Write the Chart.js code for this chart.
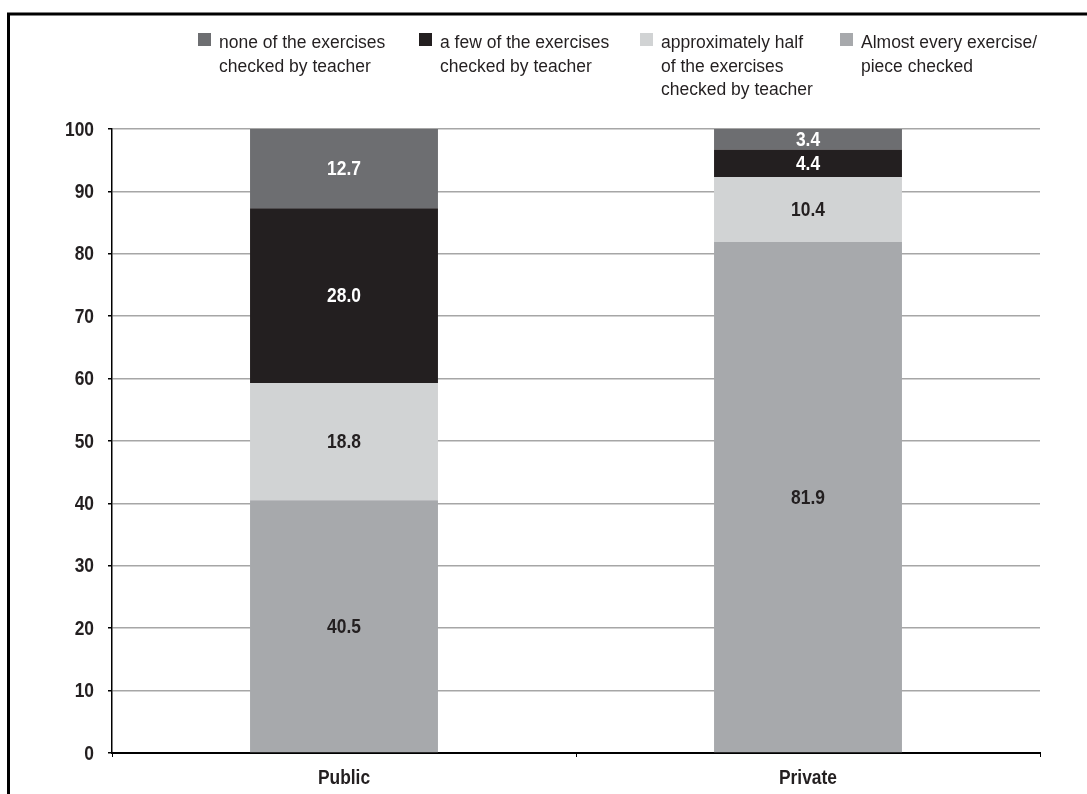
<!DOCTYPE html>
<html>
<head>
<meta charset="utf-8">
<script src="https://cdn.jsdelivr.net/npm/chart.js@4.4.1/dist/chart.umd.min.js"></script>
<style>
  html, body { margin: 0; padding: 0; background: #fff; overflow: hidden; }
  canvas { display: block; }
</style>
</head>
<body>
<canvas id="chart" width="1087" height="794"></canvas>
<script>
// School type categories
const categories = ['Public', 'Private'];

// Share of pupils (%) by how many exercises the teacher checks, stacked bottom to top
const almostEvery = [40.5, 81.9];
const approxHalf  = [18.8, 10.4];
const aFew        = [28.0, 4.4];
const noneChecked = [12.7, 3.4];

// Legend wording, one entry per line
const labelAlmostEvery = ['Almost every exercise/', 'piece checked'];
const labelApproxHalf  = ['approximately half', 'of the exercises', 'checked by teacher'];
const labelAFew        = ['a few of the exercises', 'checked by teacher'];
const labelNone        = ['none of the exercises', 'checked by teacher'];

const SANS = '"Liberation Sans", Arial, sans-serif';
const BOLD = 'bold 20px ' + SANS;
const INK = '#231f20';
const SQUEEZE = 0.87; // horizontal squeeze giving a narrow bold face

Chart.defaults.font.family = SANS;
Chart.defaults.color = INK;

// Draw a string horizontally condensed around (x, y)
function narrowText(ctx, text, x, y, align) {
  ctx.save();
  ctx.translate(x, y);
  ctx.scale(SQUEEZE, 1);
  ctx.textAlign = align;
  ctx.fillText(text, 0, 0);
  ctx.restore();
}

// Black frame along the top and left edges
const framePlugin = {
  id: 'frame',
  afterDraw(chart) {
    const ctx = chart.ctx;
    ctx.save();
    ctx.strokeStyle = '#000';
    ctx.lineWidth = 3;
    ctx.beginPath();
    ctx.moveTo(8.5, 794);
    ctx.lineTo(8.5, 14);
    ctx.lineTo(1087, 14);
    ctx.stroke();
    ctx.restore();
  }
};

// Multi-line legend across the top, listed from the top segment down
const legendPlugin = {
  id: 'multiLineLegend',
  afterDraw(chart) {
    const ctx = chart.ctx;
    const order = [3, 2, 1, 0];
    const xs = [198, 419, 640, 840];
    ctx.save();
    ctx.font = '17.5px ' + SANS;
    ctx.textBaseline = 'alphabetic';
    ctx.textAlign = 'left';
    order.forEach((dsIndex, k) => {
      const ds = chart.data.datasets[dsIndex];
      const x = xs[k];
      ctx.fillStyle = ds.backgroundColor;
      ctx.fillRect(x, 33, 13, 13);
      ctx.fillStyle = INK;
      ds.legendLines.forEach((line, li) => {
        ctx.fillText(line, x + 21, 48 + li * 23.5);
      });
    });
    ctx.restore();
  }
};

// Axis tick labels in a condensed bold face, placed by the chart's scales
const axisLabelPlugin = {
  id: 'narrowAxisLabels',
  afterDraw(chart) {
    const ctx = chart.ctx;
    const xs = chart.scales.x;
    const ys = chart.scales.y;
    ctx.save();
    ctx.font = BOLD;
    ctx.fillStyle = INK;
    ctx.textBaseline = 'middle';
    ys.ticks.forEach((t, i) => {
      narrowText(ctx, String(t.label), ys.right - 18, ys.getPixelForTick(i) + 1, 'right');
    });
    xs.ticks.forEach((t, i) => {
      narrowText(ctx, String(t.label), xs.getPixelForTick(i), xs.top + 25, 'center');
    });
    ctx.restore();
  }
};

// Value printed in the middle of each stacked segment
const valuePlugin = {
  id: 'segmentValues',
  afterDatasetsDraw(chart) {
    const ctx = chart.ctx;
    const area = chart.chartArea;
    ctx.save();
    ctx.font = BOLD;
    ctx.textBaseline = 'middle';
    chart.data.datasets.forEach((ds, i) => {
      const meta = chart.getDatasetMeta(i);
      meta.data.forEach((bar, j) => {
        const v = ds.data[j];
        const top = Math.max(bar.y, area.top);
        const y = (top + bar.base) / 2;
        ctx.fillStyle = ds.valueColor;
        narrowText(ctx, v.toFixed(1), bar.x, y + 1, 'center');
      });
    });
    ctx.restore();
  }
};

new Chart(document.getElementById('chart'), {
  type: 'bar',
  data: {
    labels: categories,
    datasets: [
      { label: labelAlmostEvery.join(' '), legendLines: labelAlmostEvery, data: almostEvery,
        backgroundColor: '#a7a9ac', valueColor: INK },
      { label: labelApproxHalf.join(' '), legendLines: labelApproxHalf, data: approxHalf,
        backgroundColor: '#d1d3d4', valueColor: INK },
      { label: labelAFew.join(' '), legendLines: labelAFew, data: aFew,
        backgroundColor: '#231f20', valueColor: '#ffffff' },
      { label: labelNone.join(' '), legendLines: labelNone, data: noneChecked,
        backgroundColor: '#6d6e71', valueColor: '#ffffff' }
    ]
  },
  options: {
    responsive: false,
    animation: false,
    events: [],
    layout: { padding: { top: 129, right: 47, bottom: 0, left: 0 } },
    datasets: {
      bar: { barPercentage: 0.405, categoryPercentage: 1, borderWidth: 0 }
    },
    plugins: {
      legend: { display: false },
      tooltip: { enabled: false },
      title: { display: false }
    },
    scales: {
      x: {
        stacked: true,
        afterFit(scale) { scale.height = 41; },
        grid: { drawOnChartArea: false, drawTicks: true, tickLength: 4, tickColor: '#000', offset: true },
        border: { display: true, color: '#000', width: 2 },
        ticks: { font: { size: 19, weight: 'bold' }, color: 'rgba(0,0,0,0)', padding: 8 }
      },
      y: {
        stacked: true,
        min: 0,
        max: 100,
        afterFit(scale) { scale.width = 112; },
        grid: { color: '#a6a6a6', lineWidth: 1.5, drawTicks: true, tickLength: 4, tickColor: '#000' },
        border: { display: true, color: '#000', width: 1.5 },
        ticks: { stepSize: 10, font: { size: 19, weight: 'bold' }, color: 'rgba(0,0,0,0)', padding: 14 }
      }
    }
  },
  plugins: [framePlugin, legendPlugin, axisLabelPlugin, valuePlugin]
});
</script>
</body>
</html>
